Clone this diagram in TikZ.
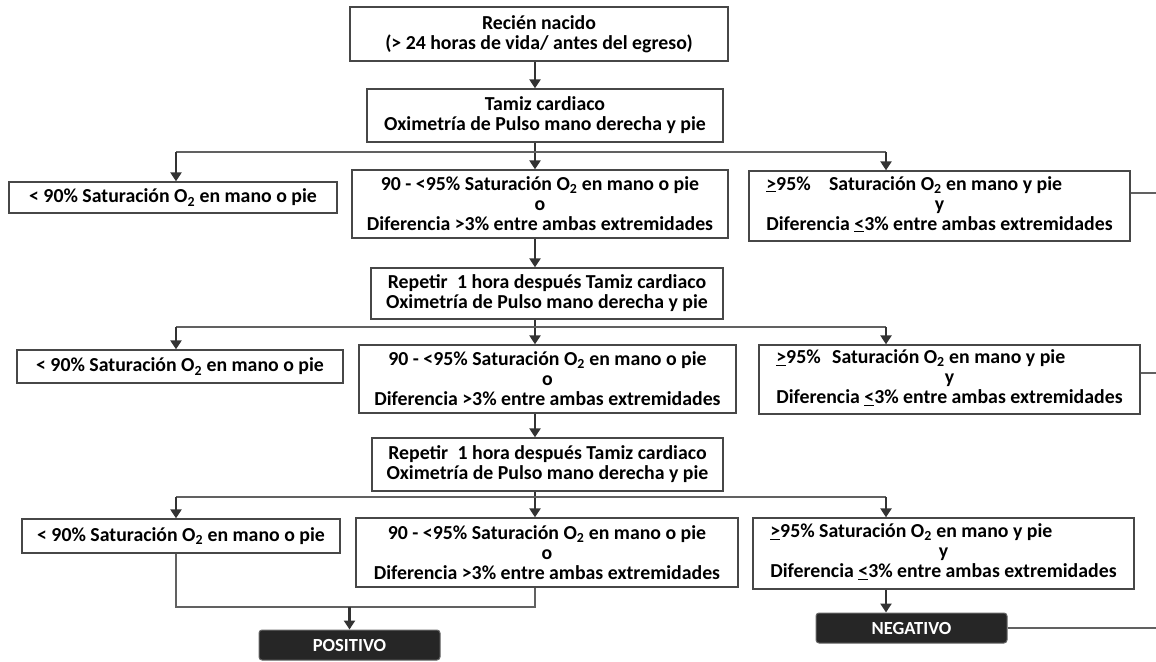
\documentclass[tikz,border=0pt]{standalone}
\usepackage{fontspec}
\setmainfont{Carlito}
\usetikzlibrary{arrows.meta}
\begin{document}
\begin{tikzpicture}[x=1pt,y=-1pt,
  box/.style={draw=black!72, line width=1.3pt, fill=white, inner sep=0pt, align=center,
    font=\fontsize{19.8}{20}\selectfont\bfseries},
  res/.style={fill=black!85, draw=black!60, line width=1pt, rounded corners=3pt, inner sep=0pt,
    text=white, font=\fontsize{18.5}{20}\selectfont\bfseries},
  arr/.style={draw=black!80, line width=2.6pt, -{Triangle[length=9pt,width=11pt]}},
  conn/.style={draw=black!62, line width=1.4pt},
]
\useasboundingbox[fill=white] (0,0) rectangle (1156,661);

% coordinates for connector columns and junctions
\coordinate (Lx) at (176,0);
\coordinate (Cx) at (535,0);
\coordinate (Rx) at (886,0);
\coordinate (j1) at (535,152);
\coordinate (j2) at (535,327);
\coordinate (j3) at (535,497);
\coordinate (jp) at (349,607);
\coordinate (e1) at (1156,193);
\coordinate (e2) at (1156,373);
\coordinate (e3) at (1156,628);

% main column
\node[box, minimum width=378, minimum height=54] (b1) at (539,34)
  {Recién nacido\\(> 24 horas de vida/ antes del egreso)};
\node[box, minimum width=356, minimum height=53] (b2) at (545,115.5)
  {Tamiz cardiaco\\Oximetría de Pulso mano derecha y pie};
\node[box, minimum width=376, minimum height=68] (m1) at (540,204)
  {90 - <95\% Saturación O\textsubscript{2} en mano o pie\\o\\Diferencia >3\% entre ambas extremidades};
\node[box, minimum width=352, minimum height=51] (r1) at (547,293.5)
  {Repetir\hspace{0.25em} 1 hora después Tamiz cardiaco\\Oximetría de Pulso mano derecha y pie};
\node[box, minimum width=377, minimum height=68] (m2) at (547.5,379)
  {90 - <95\% Saturación O\textsubscript{2} en mano o pie\\o\\Diferencia >3\% entre ambas extremidades};
\node[box, minimum width=351, minimum height=53] (r2) at (547.5,464.5)
  {Repetir\hspace{0.25em} 1 hora después Tamiz cardiaco\\Oximetría de Pulso mano derecha y pie};
\node[box, minimum width=382, minimum height=69] (m3) at (547,552.5)
  {90 - <95\% Saturación O\textsubscript{2} en mano o pie\\o\\Diferencia >3\% entre ambas extremidades};

% left column
\node[box, minimum width=328, minimum height=31] (l1) at (173,197.5)
  {< 90\% Saturación O\textsubscript{2} en mano o pie};
\node[box, minimum width=326, minimum height=33] (l2) at (180,366.5)
  {< 90\% Saturación O\textsubscript{2} en mano o pie};
\node[box, minimum width=318, minimum height=34] (l3) at (181,536)
  {< 90\% Saturación O\textsubscript{2} en mano o pie};

% right column
\node[box, minimum width=381, minimum height=70] (rt1) at (939.5,206)
  {\begin{tabular}{@{}l@{}}\underline{>}95\%\hspace{0.7em} Saturación O\textsubscript{2} en mano y pie\\
   \multicolumn{1}{@{}c@{}}{y}\\ Diferencia \underline{<}3\% entre ambas extremidades\end{tabular}};
\node[box, minimum width=381, minimum height=69] (rt2) at (949.5,379.5)
  {\begin{tabular}{@{}l@{}}\underline{>}95\%\hspace{0.35em} Saturación O\textsubscript{2} en mano y pie\\
   \multicolumn{1}{@{}c@{}}{y}\\ Diferencia \underline{<}3\% entre ambas extremidades\end{tabular}};
\node[box, minimum width=381, minimum height=71] (rt3) at (943.5,553.5)
  {\begin{tabular}{@{}l@{}}\underline{>}95\% Saturación O\textsubscript{2} en mano y pie\\
   \multicolumn{1}{@{}c@{}}{y}\\ Diferencia \underline{<}3\% entre ambas extremidades\end{tabular}};

% results
\node[res, minimum width=181, minimum height=30] (pos) at (349.5,645) {POSITIVO};
\node[res, minimum width=191, minimum height=30] (neg) at (911.5,628) {NEGATIVO};

% connectors: main flow
\draw[arr] (b1.south -| Cx) -- (b2.north -| Cx);
\draw[arr] (b2.south -| Cx) -- (m1.north -| Cx);
\draw[arr] (m1.south -| Cx) -- (r1.north -| Cx);
\draw[arr] (r1.south -| Cx) -- (m2.north -| Cx);
\draw[arr] (m2.south -| Cx) -- (r2.north -| Cx);
\draw[arr] (r2.south -| Cx) -- (m3.north -| Cx);

% branches
\draw[conn] (j1 -| Lx) -- (j1 -| Rx);
\draw[arr] (j1 -| Lx) -- (l1.north -| Lx);
\draw[arr] (j1 -| Rx) -- (rt1.north -| Rx);
\draw[conn] (j2 -| Lx) -- (j2 -| Rx);
\draw[arr] (j2 -| Lx) -- (l2.north -| Lx);
\draw[arr] (j2 -| Rx) -- (rt2.north -| Rx);
\draw[conn] (j3 -| Lx) -- (j3 -| Rx);
\draw[arr] (j3 -| Lx) -- (l3.north -| Lx);
\draw[arr] (j3 -| Rx) -- (rt3.north -| Rx);

% to results
\draw[conn] (l3.south -| Lx) |- (jp) -| (m3.south -| Cx);
\draw[arr] (pos.north |- jp) -- (pos.north);
\draw[arr] (rt3.south -| Rx) -- (neg.north -| Rx);

% stubs leaving to the right
\draw[conn] (rt1.east |- e1) -- (e1);
\draw[conn] (rt2.east |- e2) -- (e2);
\draw[conn] (neg.east |- e3) -- (e3);
\end{tikzpicture}
\end{document}
